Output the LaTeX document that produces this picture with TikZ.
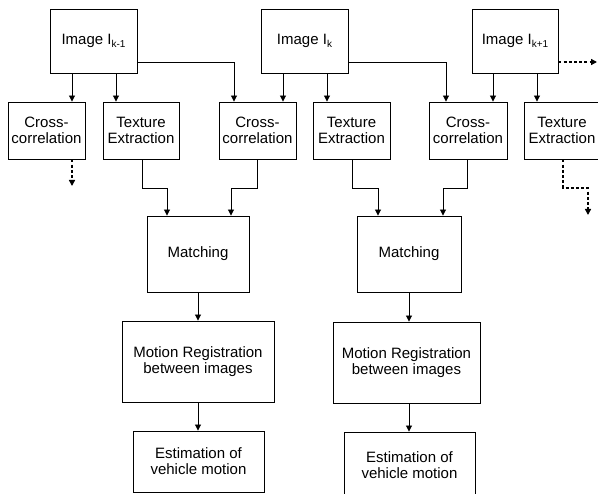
\documentclass[tikz,border=0pt]{standalone}
\usepackage{fontspec}
\setmainfont{Liberation Sans}
\usetikzlibrary{arrows.meta}
\newcommand{\lowsub}[1]{\raisebox{-0.45ex}{\fontsize{10}{10}\selectfont #1}}
\begin{document}
\begin{tikzpicture}[x=1pt,y=-1pt,
  box/.style={draw, line width=0.9pt, rectangle, align=center, inner sep=0pt,
    font=\fontsize{15}{16}\selectfont},
  arr/.style={line width=0.9pt, -{Triangle[length=6pt,width=6pt]}},
  darr/.style={line width=1.4pt, dash pattern=on 3pt off 2.2pt, -{Triangle[length=6pt,width=6pt]}}]
\clip (0,0) rectangle (598,494);
\fill[white] (0,0) rectangle (598,494);
% images
\node[box, minimum width=87pt, minimum height=64pt] (imgA) at (93.5,41) {Image I\lowsub{k-1}};
\node[box, minimum width=87pt, minimum height=64pt] (imgB) at (304.5,41) {Image I\lowsub{k}};
\node[box, minimum width=86pt, minimum height=64pt] (imgC) at (515,41) {Image I\lowsub{k+1}};
% second row
\node[box, minimum width=77pt, minimum height=57pt] (ccA) at (46.5,130.5) {Cross-\\correlation};
\node[box, minimum width=76pt, minimum height=57pt] (teA) at (141,130.5) {Texture\\Extraction};
\node[box, minimum width=77pt, minimum height=57pt] (ccB) at (257.5,130.5) {Cross-\\correlation};
\node[box, minimum width=77pt, minimum height=57pt] (teB) at (351.5,130.5) {Texture\\Extraction};
\node[box, minimum width=78pt, minimum height=57pt] (ccC) at (468,130.5) {Cross-\\correlation};
\node[box, minimum width=76pt, minimum height=57pt] (teC) at (562,130.5) {Texture\\Extraction};
% matching
\node[box, minimum width=102pt, minimum height=76pt] (matA) at (198,254) {Matching};
\node[box, minimum width=104pt, minimum height=76pt] (matB) at (409,254) {Matching};
% motion registration
\node[box, minimum width=152pt, minimum height=81pt] (motA) at (198,361.5) {Motion Registration\\between images};
\node[box, minimum width=147pt, minimum height=81pt] (motB) at (406.5,362.5) {Motion Registration\\between images};
% estimation
\node[box, minimum width=131pt, minimum height=61pt] (estA) at (198.5,461.5) {Estimation of\\vehicle motion};
\node[box, minimum width=131pt, minimum height=66pt] (estB) at (409.5,465) {Estimation of\\vehicle motion};
% arrows from images
\draw[arr] (imgA.south -| 72,0) -- (ccA.north -| 72,0);
\draw[arr] (imgA.south -| 116,0) -- (teA.north -| 116,0);
\draw[arr] (imgA.east |- 0,62) -- (234,62) -- (ccB.north -| 234,0);
\draw[arr] (imgB.south -| 283,0) -- (ccB.north -| 283,0);
\draw[arr] (imgB.south -| 327,0) -- (teB.north -| 327,0);
\draw[arr] (imgB.east |- 0,62) -- (446,62) -- (ccC.north -| 446,0);
\draw[arr] (imgC.south -| 493,0) -- (ccC.north -| 493,0);
\draw[arr] (imgC.south -| 537,0) -- (teC.north -| 537,0);
\coordinate (outC) at (597,62);
\draw[darr] (imgC.east |- 0,62) -- (outC);
% second row outputs
\coordinate (outA) at (72,186);
\draw[darr] (ccA.south -| 72,0) -- (outA);
\draw[arr] (teA.south -| 142,0) -- (142,188) -- (167,188) -- (matA.north -| 167,0);
\draw[arr] (ccB.south -| 257,0) -- (257,188) -- (231,188) -- (matA.north -| 231,0);
\draw[arr] (teB.south -| 352,0) -- (352,188) -- (378,188) -- (matB.north -| 378,0);
\draw[arr] (ccC.south -| 467,0) -- (467,188) -- (443,188) -- (matB.north -| 443,0);
\coordinate (outT) at (588,215);
\draw[darr] (teC.south -| 563,0) -- (563,188) -- (588,188) -- (outT);
% lower chain
\draw[arr] (matA.south -| 198,0) -- (motA.north -| 198,0);
\draw[arr] (matB.south -| 409,0) -- (motB.north -| 409,0);
\draw[arr] (motA.south -| 198,0) -- (estA.north -| 198,0);
\draw[arr] (motB.south -| 409,0) -- (estB.north -| 409,0);
\end{tikzpicture}
\end{document}
